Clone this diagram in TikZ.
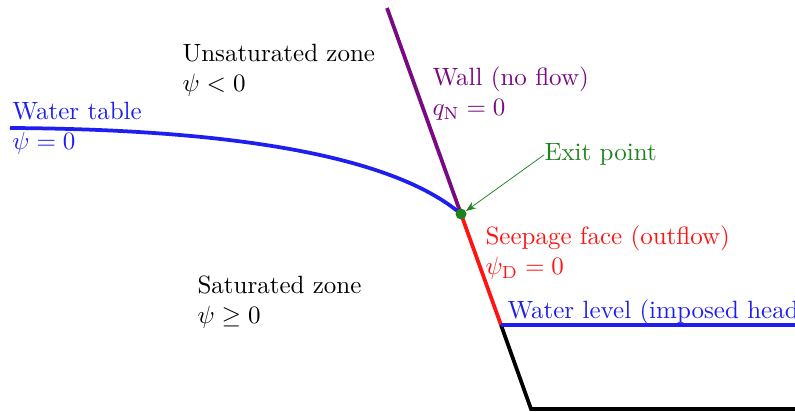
\documentclass[tikz,border=0pt]{standalone}
\usetikzlibrary{arrows.meta}
\definecolor{wblue}{RGB}{30,30,240}
\definecolor{wpurple}{RGB}{120,10,130}
\definecolor{wgreen}{RGB}{30,130,30}
\definecolor{wred}{RGB}{255,20,20}
\begin{document}
\begin{tikzpicture}[x=0.4pt,y=-0.4pt,
  bound/.style={line width=1.5pt},
  lbl/.style={anchor=base west,inner sep=0pt,align=left}]
\useasboundingbox (0,0) rectangle (795,412);
\coordinate (top) at (387,8);
\coordinate (exit) at (461,214);
\coordinate (wl) at (501,325);
\coordinate (toe) at (531,409);
\coordinate (wtl) at (10,128);
\coordinate (wlr) at (800,325);
\coordinate (br) at (800,409);
% water table
\draw[bound,wblue] (wtl) .. controls (180,129) and (380,145) .. (exit);
% wall
\draw[bound,wpurple] (top) -- (exit);
% seepage face
\draw[bound,wred] (exit) -- (wl);
% bottom
\draw[bound,black] (wl) -- (toe) -- (br);
% water level
\draw[bound,wblue] (wl) -- (wlr);
% exit point
\fill[wgreen] (exit) circle (2.2pt);
% labels (anchor at the baseline of the last line)
\node[lbl] (uz) at (182,92) {Unsaturated zone\\$\psi<0$};
\node[lbl,wpurple] (wall) at (432,116) {Wall (no flow)\\$q_{\mathrm{N}}=0$};
\node[lbl,wblue] (wt) at (12,150) {Water table\\$\psi=0$};
\node[lbl,wgreen] (ep) at (544,161) {Exit point};
\node[lbl,wred] (sf) at (485,275) {Seepage face (outflow)\\$\psi_{\mathrm{D}}=0$};
\node[lbl] (sz) at (197,324) {Saturated zone\\$\psi\geq0$};
\node[lbl,wblue] (wlv) at (507,319) {Water level (imposed head)};
\draw[wgreen,line width=0.3pt,-{Stealth[length=4pt,width=3pt]}] (ep.west) -- ([shift={(5,-3)}]exit);
\end{tikzpicture}
\end{document}
